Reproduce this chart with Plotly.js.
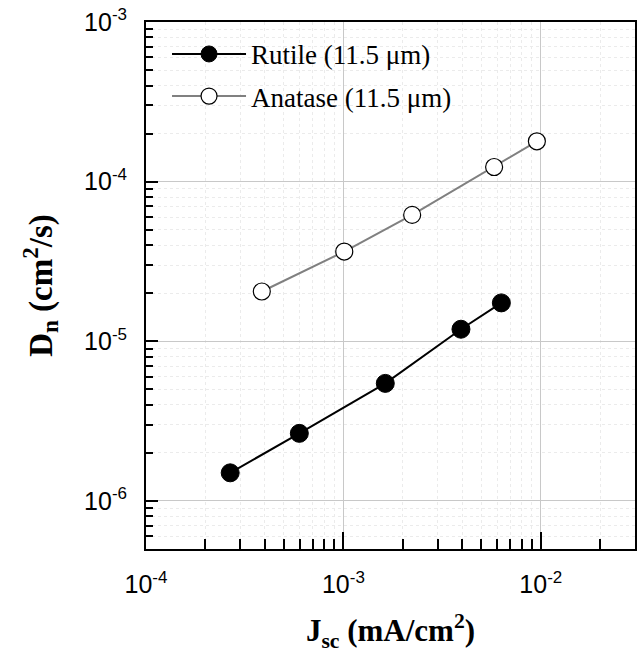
<!DOCTYPE html>
<html>
<head>
<meta charset="utf-8">
<script src="https://cdn.plot.ly/plotly-3.0.1.min.js"></script>
<style>
  html, body { margin: 0; padding: 0; background: #fff; }
  #chart { width: 640px; height: 653px; }
</style>
</head>
<body>
<div id="chart"></div>
<script>
// Data
const rutileJsc = [2.67e-4, 5.98e-4, 1.63e-3, 3.94e-3, 6.31e-3];
const rutileDn  = [1.50e-6, 2.65e-6, 5.45e-6, 1.19e-5, 1.74e-5];
const anataseJsc = [3.86e-4, 1.01e-3, 2.23e-3, 5.80e-3, 9.55e-3];
const anataseDn  = [2.05e-5, 3.65e-5, 6.19e-5, 1.235e-4, 1.79e-4];
const seriesNames = ['Rutile (11.5 \u03bcm)', 'Anatase (11.5 \u03bcm)'];
const xTickVals = [1e-4, 1e-3, 1e-2];
const xTickExp = ['-4', '-3', '-2'];
const yTickVals = [1e-6, 1e-5, 1e-4, 1e-3];
const yTickExp = ['-6', '-5', '-4', '-3'];

const serif = 'Liberation Serif, Times New Roman, serif';
const narrow = 'Liberation Sans Narrow, Arial Narrow, Liberation Sans, Arial, sans-serif';
const powLabel = (e, s) => '10<sup><span style="font-size:' + s + 'px">' + e + '</span></sup>';

const traces = [
  {
    x: rutileJsc, y: rutileDn, name: seriesNames[0], type: 'scatter', mode: 'lines+markers',
    line: {color: '#000000', width: 2},
    marker: {symbol: 'circle', size: 18, color: '#000000', line: {color: '#000000', width: 1}},
    legendgroup: 'a'
  },
  {
    x: anataseJsc, y: anataseDn, name: seriesNames[1], type: 'scatter', mode: 'lines+markers',
    line: {color: '#808080', width: 2},
    marker: {symbol: 'circle', size: 17, color: '#ffffff', line: {color: '#000000', width: 1.2}},
    legendgroup: 'b'
  }
];

const layout = {
  width: 640, height: 653,
  margin: {l: 146, r: 5, t: 22, b: 104},
  paper_bgcolor: '#ffffff', plot_bgcolor: '#ffffff',
  showlegend: true,
  legend: {
    x: 0.043, y: 0.985, xanchor: 'left', yanchor: 'top',
    bgcolor: 'rgba(0,0,0,0)', borderwidth: 0,
    font: {family: serif, size: 27, color: '#000'},
    tracegroupgap: 4, itemwidth: 74
  },
  xaxis: {
    type: 'log', range: [-4, Math.log10(0.03)],
    tickvals: xTickVals, ticktext: xTickExp.map(e => powLabel(e, 17)),
    tickfont: {family: narrow, size: 25, color: '#000'},
    ticks: 'inside', ticklen: 17, tickwidth: 2, tickcolor: '#000',
    ticklabelstandoff: 12,
    showline: true, linecolor: '#000', linewidth: 2, mirror: true,
    showgrid: true, gridcolor: '#c8c8c8', gridwidth: 1,
    zeroline: false,
    minor: {ticks: 'inside', ticklen: 10, tickwidth: 2, tickcolor: '#000', dtick: 'D1',
            showgrid: true, gridcolor: '#ebebeb', gridwidth: 1, griddash: 'dot'},
    title: {text: '<b>J<sub>sc</sub> (mA/cm<sup>2</sup>)</b>', font: {family: serif, size: 31, color: '#000'}, standoff: 24}
  },
  yaxis: {
    type: 'log', range: [Math.log10(5e-7), -3],
    tickvals: yTickVals, ticktext: yTickExp.map(e => powLabel(e, 17)),
    tickfont: {family: narrow, size: 25, color: '#000'},
    ticks: 'inside', ticklen: 12, tickwidth: 2, tickcolor: '#000',
    ticklabelstandoff: 12,
    showline: true, linecolor: '#000', linewidth: 2, mirror: true,
    showgrid: true, gridcolor: '#c8c8c8', gridwidth: 1,
    zeroline: false,
    minor: {ticks: 'inside', ticklen: 7, tickwidth: 2, tickcolor: '#000', dtick: 'D1',
            showgrid: true, gridcolor: '#ebebeb', gridwidth: 1, griddash: 'dot'},
    title: {text: '<b>D<sub>n</sub> (cm<sup>2</sup>/s)</b>', font: {family: serif, size: 33, color: '#000'}, standoff: 22}
  }
};

Plotly.newPlot('chart', traces, layout, {displayModeBar: false, staticPlot: true});
</script>
</body>
</html>
